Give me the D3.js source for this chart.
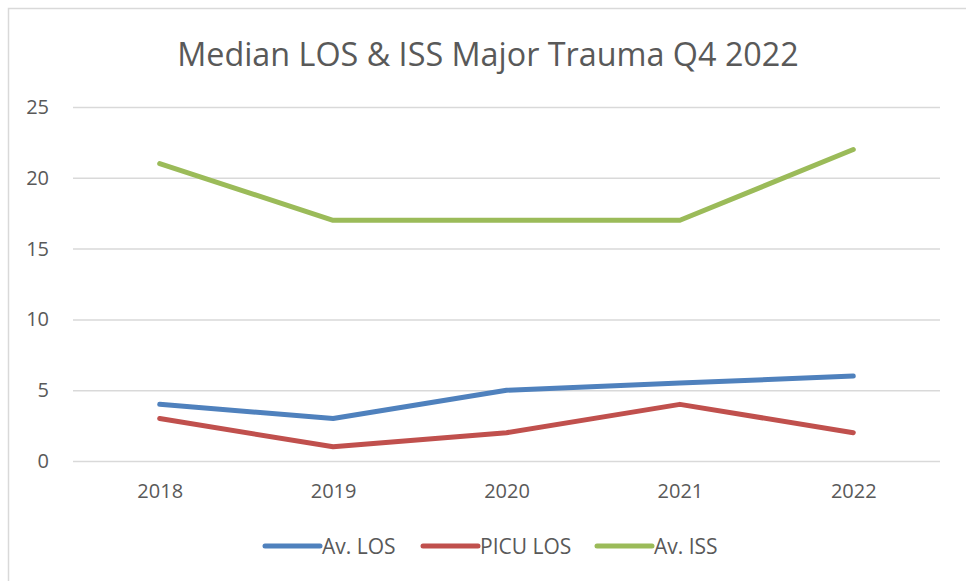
<!DOCTYPE html>
<html>
<head>
<meta charset="utf-8">
<script src="https://cdn.jsdelivr.net/npm/d3@7"></script>
<style>
  html, body { margin: 0; padding: 0; background: #fff; }
  svg { display: block; font-family: 'Open Sans', sans-serif; }
</style>
</head>
<body>
<svg id="chart" width="966" height="581"></svg>
<script>
// chart data
const years = ['2018', '2019', '2020', '2021', '2022'];
const avLos = [4, 3, 5, 5.5, 6];
const picuLos = [3, 1, 2, 4, 2];
const avIss = [21, 17, 17, 17, 22];
const yTicks = [0, 5, 10, 15, 20, 25];

const seriesNames = ['Av. LOS', 'PICU LOS', 'Av. ISS'];
const seriesValues = [avLos, picuLos, avIss];
const colors = ['#4f81bd', '#c0504d', '#9bbb59'];

const width = 966, height = 581;
const plot = { left: 73, right: 940, top: 107, bottom: 461 };
const textColor = '#595959';

const svg = d3.select('#chart');

// outer chart border
svg.append('rect')
  .attr('x', 8.5).attr('y', 8.5)
  .attr('width', 1000).attr('height', 1000)
  .attr('fill', 'none')
  .attr('stroke', '#d9d9d9')
  .attr('stroke-width', 1.5);

// title, font size fitted to the reference width
const title = svg.append('text')
  .attr('x', 488).attr('y', 66)
  .attr('text-anchor', 'middle')
  .attr('fill', textColor)
  .attr('font-size', 30)
  .text('Median LOS & ISS Major Trauma Q4 2022');
const tw = title.node().getComputedTextLength();
title.attr('font-size', 30 * 622 / tw);

const x = d3.scalePoint()
  .domain(years)
  .range([plot.left, plot.right])
  .padding(0.5);

const y = d3.scaleLinear()
  .domain([0, 25])
  .range([plot.bottom, plot.top]);

// gridlines + y labels
const yAxis = d3.axisLeft(y)
  .tickValues(yTicks)
  .tickSize(-(plot.right - plot.left))
  .tickPadding(24);

const gy = svg.append('g')
  .attr('transform', `translate(${plot.left},0)`)
  .call(yAxis);
gy.select('.domain').remove();
gy.selectAll('.tick line')
  .attr('stroke', '#d9d9d9')
  .attr('stroke-width', 1.5);
gy.selectAll('.tick text')
  .attr('fill', textColor)
  .attr('font-size', 20)
  .attr('font-family', "'Open Sans', sans-serif");

// x labels
const xAxis = d3.axisBottom(x).tickSize(0).tickPadding(23);
const gx = svg.append('g')
  .attr('transform', `translate(0,${plot.bottom})`)
  .call(xAxis);
gx.select('.domain').remove();
gx.selectAll('.tick text')
  .attr('fill', textColor)
  .attr('font-size', 20)
  .attr('font-family', "'Open Sans', sans-serif");

// lines
const line = d3.line()
  .x((d, i) => x(years[i]))
  .y(d => y(d));

svg.append('g')
  .selectAll('path')
  .data(seriesValues)
  .join('path')
  .attr('d', line)
  .attr('fill', 'none')
  .attr('stroke', (d, i) => colors[i])
  .attr('stroke-width', 5)
  .attr('stroke-linecap', 'round')
  .attr('stroke-linejoin', 'round');

// legend
const legendX = [265, 423, 597];
const legendY = 546;
const legend = svg.append('g')
  .selectAll('g')
  .data(seriesNames)
  .join('g')
  .attr('transform', (d, i) => `translate(${legendX[i]},${legendY})`);

legend.append('line')
  .attr('x1', 0).attr('x2', 55)
  .attr('y1', 0).attr('y2', 0)
  .attr('stroke', (d, i) => colors[i])
  .attr('stroke-width', 5)
  .attr('stroke-linecap', 'round');

legend.append('text')
  .attr('x', 57).attr('y', 7.5)
  .attr('fill', textColor)
  .attr('font-size', 21)
  .text(d => d);
</script>
</body>
</html>
